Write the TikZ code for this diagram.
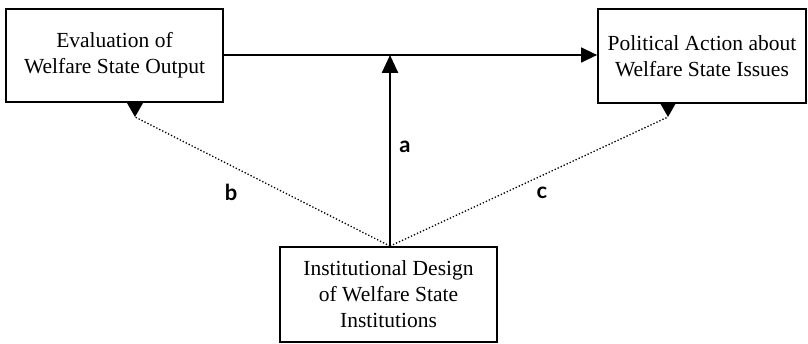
\documentclass[tikz,border=0pt]{standalone}
\usepackage{fontspec}
\setmainfont{Liberation Serif}
\newfontfamily\labelfont{Lato}
\usepackage{tikz}
\usetikzlibrary{
    arrows.meta,
    calc,
    positioning
}
\tikzset{
    box/.style={draw, line width=1.8pt, inner sep=0pt, align=center,
        font=\fontsize{21.5}{26}\selectfont},
    path label/.style={font=\labelfont\bfseries\fontsize{22}{24}\selectfont}
}
\newcommand{\droptip}[1]{
    \fill ($(#1)$) -- ($(#1) + (-8, -14)$) -- ($(#1) + (8, -14)$) -- cycle;
}

\begin{document}
\begin{tikzpicture}[x=1pt, y=-1pt]
    \useasboundingbox (0, 0) rectangle (808, 344);
    \node[box, minimum width=217pt, minimum height=93pt] (eval) at (114.5, 55.5)
        {Evaluation of\\Welfare State Output};
    \node[box, minimum width=208pt, minimum height=94pt] (action) at (702, 56)
        {Political Action about\\Welfare State Issues};
    \node[box, minimum width=217pt, minimum height=95pt] (design) at (388.5, 294.5)
        {Institutional Design\\of Welfare State\\Institutions};
    \coordinate (join) at (390, 55);
    \coordinate (btip) at (135, 117);
    \coordinate (ctip) at (668, 117);
    % main effect and paths
    \draw[line width=1.5pt, -{Triangle[width=15pt, length=16pt]}] (eval.east |- join) -- (action.west |- join);
    \draw[line width=2.5pt, -{Triangle[width=16pt, length=18pt]}] (design.north -| join) -- (join);
    \draw[dotted, line width=1.3pt] (design.north -| join) -- (btip);
    \draw[dotted, line width=1.3pt] (design.north -| join) -- (ctip);
    \droptip{btip}
    \droptip{ctip}
    \node[path label] (la) at (405, 147) {a};
    \node[path label] (lb) at (231, 192) {b};
    \node[path label] (lc) at (542, 193) {c};
\end{tikzpicture}
\end{document}
